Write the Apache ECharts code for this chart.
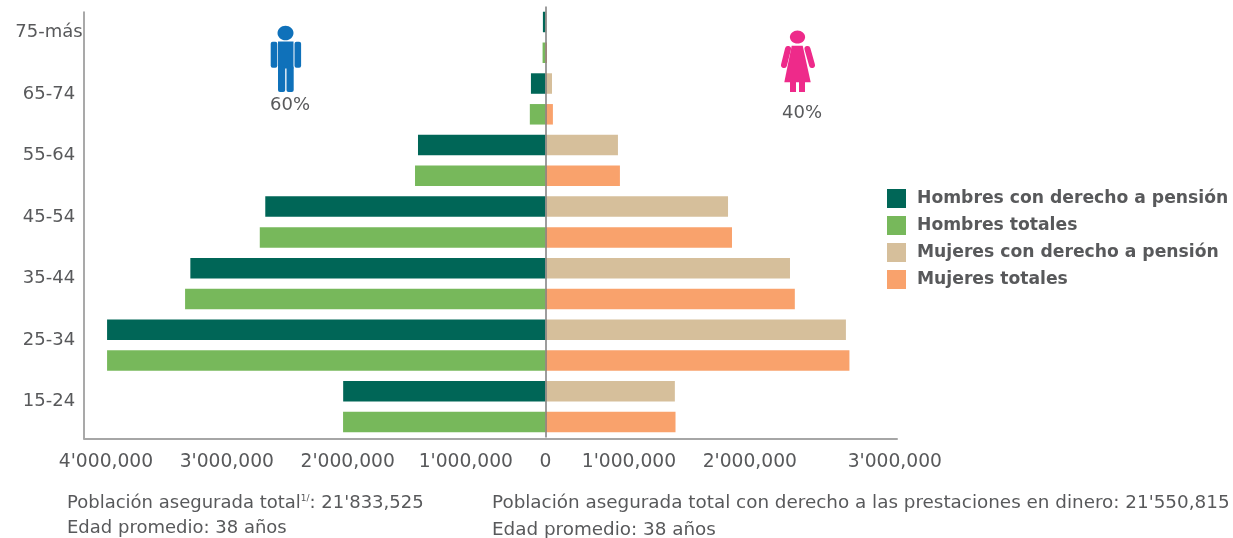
<!DOCTYPE html>
<html><head><meta charset="utf-8">
<style>html,body{margin:0;padding:0;background:#fff}#c{width:1233px;height:538px}</style>
<script src="https://cdn.jsdelivr.net/npm/echarts@6/dist/echarts.min.js"></script>
</head><body><div id="c"></div>
<script>
const FONT = '"DejaVu Sans", sans-serif';
const TEXT = '#58595b';
const ageGroups = ['75-más','65-74','55-64','45-54','35-44','25-34','15-24'];
const hombresPension = [-23000,-132000,-1160000,-2550000,-3232000,-3990000,-1841000];
const hombresTotales = [-26000,-142000,-1187000,-2600000,-3280000,-3990000,-1842000];
const mujeresPension = [8000,60000,660000,1662000,2226000,2735000,1178000];
const mujeresTotales = [14000,68000,678000,1698000,2270000,2767000,1184000];
const seriesNames = ['Hombres con derecho a pensión','Hombres totales','Mujeres con derecho a pensión','Mujeres totales'];
const seriesColors = ['#006657','#77b85b','#d6bf9b','#f9a26c'];
const tickLabels = ["4'000,000","3'000,000","2'000,000","1'000,000","0","1'000,000","2'000,000","3'000,000"];
// where the source places each tick label along the axis (labels are hand-spaced in the reference)
const tickLabelAnchors = [-4000000,-2900000,-1800000,-725000,0,760000,1860000,3180000];

const rows = ageGroups.flatMap(a => [a, a]);
const onRow = (vals, odd) => vals.flatMap(v => odd ? [null, v] : [v, null]);
const barData = [onRow(hombresPension,false), onRow(hombresTotales,true), onRow(mujeresPension,false), onRow(mujeresTotales,true)];

const series = seriesNames.map((name,i) => ({
  name, type:'bar', xAxisIndex:0, yAxisIndex:0, data:barData[i],
  barWidth:20.5, barGap:'-100%', itemStyle:{color:seriesColors[i]},
  silent:true, z:2,
  markLine: i===0 ? {silent:true, symbol:'none', label:{show:false}, animation:false,
    lineStyle:{color:'#7d7d7d',width:1.5,type:'solid'}, data:[{xAxis:0}]} : undefined
}));

const txt = (x,y,text,fontSize,extra) => ({type:'text',x,y,silent:true,
  style:Object.assign({text,fill:TEXT,font:`400 ${fontSize}px ${FONT}`,textVerticalAlign:'middle'},extra||{})});

const BLUE='#0f71ba';
const man = {type:'group',silent:true,children:[
  {type:'ellipse',shape:{cx:285.5,cy:33,rx:8,ry:7.3},style:{fill:BLUE}},
  {type:'rect',shape:{x:278,y:41.5,width:15.5,height:27},style:{fill:BLUE}},
  {type:'rect',shape:{x:270.7,y:41.7,width:6.6,height:26,r:2},style:{fill:BLUE}},
  {type:'rect',shape:{x:294.5,y:41.7,width:6.6,height:26,r:2},style:{fill:BLUE}},
  {type:'rect',shape:{x:278,y:66,width:7.2,height:26,r:2},style:{fill:BLUE}},
  {type:'rect',shape:{x:286.5,y:66,width:7.2,height:26,r:2},style:{fill:BLUE}}
]};
const PINK='#ee2a8a';
const woman = {type:'group',silent:true,children:[
  {type:'ellipse',shape:{cx:797.5,cy:37,rx:7.6,ry:6.6},style:{fill:PINK}},
  {type:'polygon',shape:{points:[[791.7,45.7],[802.7,45.7],[810.7,82.3],[784.3,82.3]]},style:{fill:PINK}},
  {type:'polyline',shape:{points:[[788,49],[784,65]]},style:{stroke:PINK,lineWidth:6,lineCap:'round',fill:'none'}},
  {type:'polyline',shape:{points:[[807.5,49],[812,65]]},style:{stroke:PINK,lineWidth:6,lineCap:'round',fill:'none'}},
  {type:'rect',shape:{x:790,y:82,width:6,height:10},style:{fill:PINK}},
  {type:'rect',shape:{x:799,y:82,width:6,height:10},style:{fill:PINK}}
]};

const chart = echarts.init(document.getElementById('c'),null,{renderer:'canvas'});
chart.setOption({
  animation:false,
  backgroundColor:'#fff',
  textStyle:{fontFamily:FONT},
  grid:[
    {left:84,top:6.6,width:813,height:430.8},
    {left:84,top:12,width:813,height:426.5}
  ],
  xAxis:[
    {type:'value',gridIndex:0,min:-4200000,max:3200000,
      axisLine:{show:false},axisTick:{show:false},splitLine:{show:false},
      axisLabel:{customValues:tickLabelAnchors,margin:15,color:TEXT,fontSize:18.7,fontFamily:FONT,
        formatter:v=>tickLabels[tickLabelAnchors.indexOf(v)]}},
    {type:'value',gridIndex:1,min:0,max:1,axisLabel:{show:false},axisTick:{show:false},splitLine:{show:false},
      axisLine:{show:true,onZero:false,lineStyle:{color:'#a6a6a6',width:2}}}
  ],
  yAxis:[
    {type:'category',gridIndex:0,inverse:true,data:rows,
      axisLine:{show:false},axisTick:{show:false},splitLine:{show:false},
      axisLabel:{interval:1,margin:35,align:'center',verticalAlign:'top',lineHeight:21,color:TEXT,fontSize:18,fontFamily:FONT}},
    {type:'value',gridIndex:1,min:0,max:1,axisLabel:{show:false},axisTick:{show:false},splitLine:{show:false},
      axisLine:{show:true,onZero:false,lineStyle:{color:'#8c8c8c',width:1.5}}}
  ],
  legend:{orient:'vertical',left:887,top:189,padding:0,itemWidth:19,itemHeight:19,itemGap:8,
    data:seriesNames,selectedMode:false,icon:'rect',
    textStyle:{color:TEXT,fontSize:17.2,fontWeight:700,fontFamily:FONT,padding:[0,0,0,6]}},
  series,
  graphic:[
    man,woman,
    txt(290,105,'60%',18,{textAlign:'center'}),
    txt(802,113,'40%',18,{textAlign:'center'}),
    {type:'text',x:67,y:503,silent:true,style:{
      rich:{b:{fontFamily:FONT,fontSize:18,fill:TEXT},s:{fontFamily:FONT,fontSize:9,fill:TEXT,padding:[0,0,8,0]}},
      text:"{b|Población asegurada total}{s|1/}{b|: 21'833,525}",textVerticalAlign:'middle'}},
    txt(67,528,'Edad promedio: 38 años',18),
    txt(492,503,"Población asegurada total con derecho a las prestaciones en dinero: 21'550,815",18.35),
    txt(492,530,'Edad promedio: 38 años',18.35)
  ]
});
</script></body></html>
